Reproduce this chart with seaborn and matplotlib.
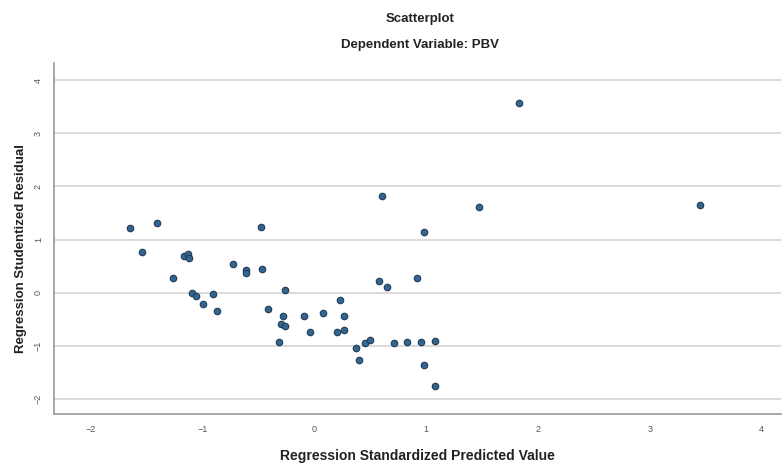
import matplotlib
matplotlib.use('Agg')
import matplotlib.pyplot as plt
import seaborn as sns
import pandas as pd

# Nilai
pred = [-1.65, -1.54, -1.41, -1.27, -1.17, -1.13, -1.12, -1.10, -1.06, -1.00,
        -0.91, -0.87, -0.73, -0.61, -0.61, -0.48, -0.47, -0.42, -0.26, -0.28,
        -0.30, -0.26, -0.32, -0.09, -0.04, 0.08, 0.23, 0.26, 0.20, 0.26,
        0.37, 0.40, 0.45, 0.50, 0.60, 0.58, 0.65, 0.71, 0.83, 0.92,
        0.95, 0.98, 0.98, 1.08, 1.08, 1.47, 1.83, 3.45]
resid = [1.21, 0.77, 1.32, 0.27, 0.69, 0.73, 0.65, 0.00, -0.07, -0.22,
         -0.02, -0.35, 0.54, 0.42, 0.36, 1.24, 0.44, -0.32, 0.05, -0.44,
         -0.59, -0.63, -0.93, -0.44, -0.74, -0.39, -0.14, -0.44, -0.74, -0.71,
         -1.04, -1.27, -0.96, -0.90, 1.82, 0.22, 0.10, -0.96, -0.94, 0.27,
         -0.94, 1.15, -1.37, -0.91, -1.76, 1.62, 3.57, 1.65]
xticks = [-2, -1, 0, 1, 2, 3, 4]
yticks = [-2, -1, 0, 1, 2, 3, 4]

df = pd.DataFrame({'pred': pred, 'resid': resid})

sns.set_style('white')
plt.rcParams['font.family'] = ['Liberation Sans', 'DejaVu Sans']

fig = plt.figure(figsize=(7.83, 4.63), dpi=100)
ax = fig.add_axes([0.069, 0.106, 0.928, 0.758])

for t in yticks:
    ax.axhline(t, color='#d8d8d8', linewidth=1.3, zorder=0)

sns.scatterplot(data=df, x='pred', y='resid', ax=ax, s=22,
                color='#35658f', edgecolor='#1f3d5c', linewidth=0.8, zorder=3)

ax.set_xlim(-2.33, 4.17)
ax.set_ylim(-2.29, 4.33)
ax.set_xticks(xticks)
ax.set_yticks(yticks)
ax.tick_params(length=0, labelsize=6.5, labelcolor='#555555', pad=8)
for lab in ax.get_yticklabels():
    lab.set_rotation(90)
    lab.set_va('center')

for side in ['top', 'right']:
    ax.spines[side].set_visible(False)
for side in ['left', 'bottom']:
    ax.spines[side].set_color('#9a9a9a')
    ax.spines[side].set_linewidth(1.2)

ax.set_xlabel('Regression Standardized Predicted Value', fontsize=10, fontweight='bold',
              labelpad=11, color='#222222')
ax.set_ylabel('Regression Studentized Residual', fontsize=9.5, fontweight='bold',
              labelpad=9, color='#222222')
ax.yaxis.set_label_coords(-0.037, 0.47)

fig.text(0.536, 0.958, 'Scatterplot', ha='center', va='center', fontsize=9.5,
         fontweight='bold', color='#222222')
fig.text(0.536, 0.902, 'Dependent Variable: PBV', ha='center', va='center', fontsize=9.5,
         fontweight='bold', color='#222222')

fig.savefig('out.png', dpi=100)
